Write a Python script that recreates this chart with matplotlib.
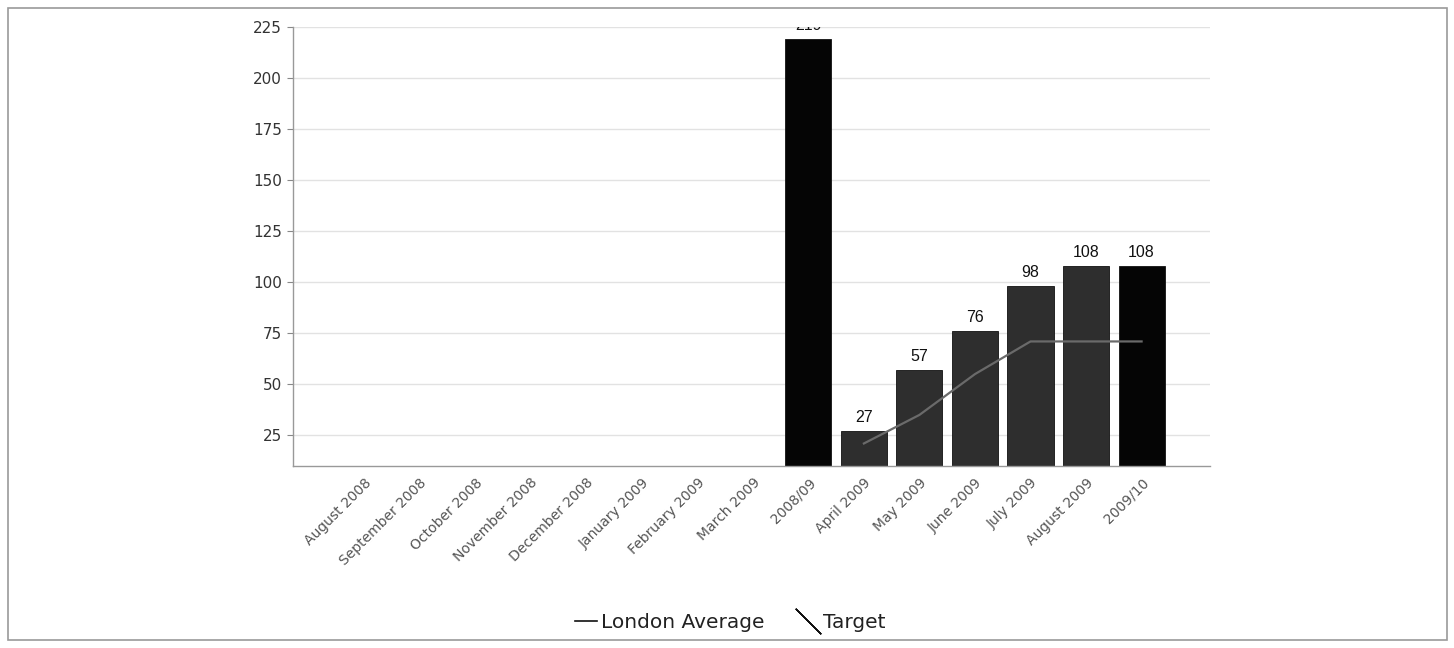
import matplotlib
matplotlib.use("Agg")
import matplotlib.pyplot as plt
from matplotlib.lines import Line2D
from matplotlib.patches import Rectangle

categories = ["August 2008", "September 2008", "October 2008", "November 2008",
              "December 2008", "January 2009", "February 2009", "March 2009",
              "2008/09", "April 2009", "May 2009", "June 2009", "July 2009",
              "August 2009", "2009/10"]
values = [None, None, None, None, None, None, None, None,
          219, 27, 57, 76, 98, 108, 108]
london_average = [None, None, None, None, None, None, None, None,
                  None, 21, 35, 55, 71, 71, 71]
yticks = [25, 50, 75, 100, 125, 150, 175, 200, 225]

fig = plt.figure(figsize=(14.54, 6.48), dpi=100)
ax = fig.add_axes([0.2015, 0.281, 0.631, 0.677])

x = list(range(len(categories)))
for i, v in enumerate(values):
    if v is None:
        continue
    annual = "/" in categories[i]
    col = "#050505" if annual else "#2e2e2e"
    ax.bar(i, v, width=0.83, color=col, edgecolor="#111111", linewidth=0.6, zorder=2)
    ax.text(i, v + 3, str(v), ha="center", va="bottom", fontsize=11.5,
            family="Liberation Sans", color="#111111", clip_on=True, zorder=4)

lx = [i for i, v in enumerate(london_average) if v is not None]
ly = [v for v in london_average if v is not None]
ax.plot(lx, ly, color="#6a6a6a", linewidth=1.6, zorder=3)

ax.set_xlim(-1.28, 15.24)
ax.set_ylim(10, 225)
ax.set_yticks(yticks)
ax.set_yticklabels([str(t) for t in yticks], fontsize=11, color="#333333")
ax.set_xticks(x)
ax.set_xticklabels(categories, rotation=45, ha="right", rotation_mode="anchor",
                   fontsize=10, color="#555555")
ax.tick_params(axis="x", length=0, pad=7)
ax.tick_params(axis="y", length=4, color="#888888", pad=4)
ax.grid(axis="y", color="#e2e2e2", linewidth=1, zorder=0)
ax.set_axisbelow(True)
for s in ["top", "right"]:
    ax.spines[s].set_visible(False)
for s in ["left", "bottom"]:
    ax.spines[s].set_color("#999999")
    ax.spines[s].set_linewidth(1)

handles = [Line2D([], [], color="#111111", linewidth=1.2),
           Line2D([], [], color="#111111", linestyle="none", marker=(2, 2, 45),
                  markersize=26, markeredgewidth=1)]
fig.legend(handles, ["London Average", "Target"], loc="center",
           bbox_to_anchor=(0.502, 0.04), ncol=2, frameon=False, fontsize=14.5,
           handlelength=1.1, handletextpad=0.2, columnspacing=1.6,
           labelcolor="#222222")

fig.patches.append(Rectangle((8 / 1454, 8 / 648), 1439 / 1454, 632 / 648,
                             transform=fig.transFigure, fill=False,
                             edgecolor="#9a9a9a", linewidth=1.2))

fig.savefig("out.png", dpi=100, facecolor="white")
